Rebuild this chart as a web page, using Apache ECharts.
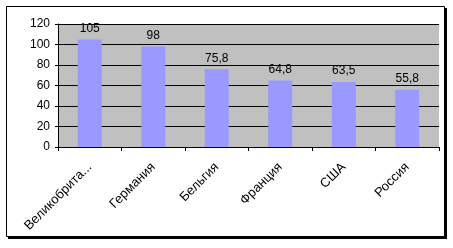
<!DOCTYPE html>
<html><head><meta charset="utf-8">
<script src="https://cdn.jsdelivr.net/npm/echarts@6/dist/echarts.min.js"></script>
<style>html,body{margin:0;padding:0;background:#fff;}#c{width:453px;height:248px;}</style>
</head><body><div id="c"></div>
<script>
const categories = ['Великобрита...', 'Германия', 'Бельгия', 'Франция', 'США', 'Россия'];
const values = [105, 98, 75.8, 64.8, 63.5, 55.8];
const valueLabels = ['105', '98', '75,8', '64,8', '63,5', '55,8'];
const yTicks = [0, 20, 40, 60, 80, 100, 120];

const chart = echarts.init(document.getElementById('c'), null, {renderer: 'canvas'});
const font = 'Liberation Sans, Arial, sans-serif';
chart.setOption({
  animation: false,
  backgroundColor: '#fff',
  graphic: [
    {type: 'rect', shape: {x: 8, y: 8, width: 439, height: 231}, style: {fill: '#000'}, z: -10, silent: true},
    {type: 'rect', shape: {x: 6.5, y: 6.5, width: 438, height: 230}, style: {fill: '#fff', stroke: '#000', lineWidth: 1}, z: -9, silent: true}
  ],
  grid: {left: 58, right: 14, top: 24, bottom: 101, show: true, backgroundColor: '#C0C0C0', borderWidth: 0},
  xAxis: {
    type: 'category', data: categories,
    axisLine: {show: true, lineStyle: {color: '#000', width: 1}},
    axisTick: {show: true, length: 4, alignWithLabel: false, lineStyle: {color: '#000'}},
    axisLabel: {rotate: 45, interval: 0, color: '#000', fontFamily: font, fontSize: 13, margin: 18}
  },
  yAxis: {
    type: 'value', min: 0, max: 120, interval: 20,
    axisLine: {show: true, lineStyle: {color: '#000', width: 1}},
    axisTick: {show: true, length: 3, lineStyle: {color: '#000'}},
    axisLabel: {color: '#000', fontFamily: font, fontSize: 12, margin: 8,
      formatter: v => yTicks.includes(v) ? String(v) : ''},
    splitLine: {show: true, lineStyle: {color: '#000', width: 1}}
  },
  series: [{
    type: 'bar', data: values, barWidth: 24,
    itemStyle: {color: '#9999FF'},
    label: {show: true, position: 'top', distance: 5, color: '#000', fontFamily: font, fontSize: 12,
      formatter: p => valueLabels[p.dataIndex]}
  }]
});
</script></body></html>
